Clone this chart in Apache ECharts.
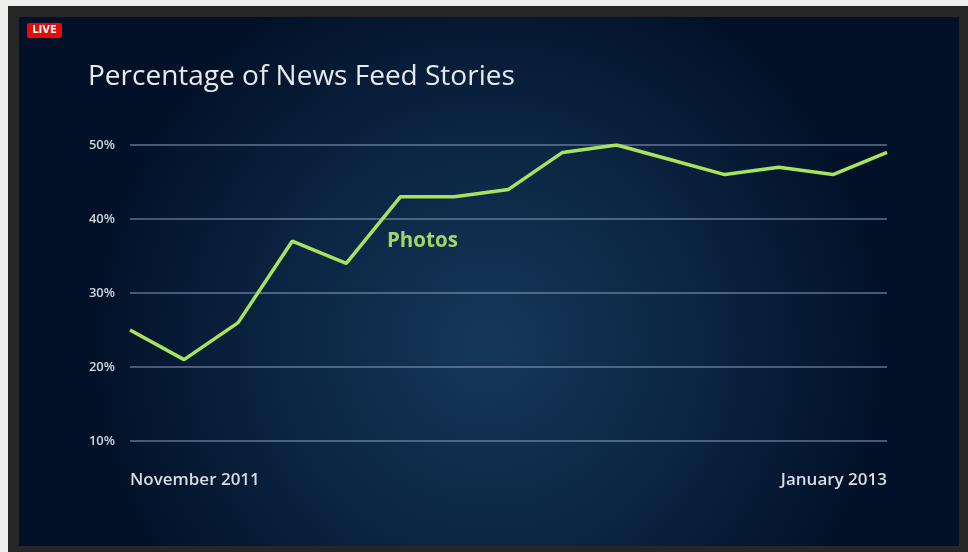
<!DOCTYPE html>
<html><head><meta charset="utf-8">
<script src="https://cdn.jsdelivr.net/npm/echarts@6/dist/echarts.min.js"></script>
<style>html,body{margin:0;padding:0;background:#efefed}#c{width:968px;height:552px}</style>
</head><body><div id="c"></div>
<script>
const months = ['November 2011','December 2011','January 2012','February 2012','March 2012','April 2012','May 2012','June 2012','July 2012','August 2012','September 2012','October 2012','November 2012','December 2012','January 2013'];
const photos = [25, 21, 26, 37, 34, 43, 43, 44, 49, 50, 48, 46, 47, 46, 49];
const yTicks = [10, 20, 30, 40, 50];
const titleText = 'Percentage of News Feed Stories';
const seriesName = 'Photos';

const chart = echarts.init(document.getElementById('c'), null, {renderer:'canvas'});
chart.setOption({
  backgroundColor: '#efefed',
  animation: false,
  graphic: [
    {type:'rect', z:-20, shape:{x:8,y:6,width:960,height:546}, style:{fill:'#262626'}},
    {type:'rect', z:-19, shape:{x:19,y:17,width:940,height:529}, style:{
      fill: new echarts.graphic.RadialGradient(0.5, 0.62, 0.75, [
        {offset:0, color:'#15385b'},
        {offset:0.55, color:'#0b2442'},
        {offset:1, color:'#021127'}
      ])}},
    {type:'rect', z:10, shape:{x:27,y:23,width:35,height:15, r:2}, style:{fill:'#e60b0b'}},
    {type:'text', z:11, x:44.5, y:30.5, style:{text:'LIVE', fill:'#ffffff', font:'bold 10px "DejaVu Sans"', align:'center', verticalAlign:'middle'}},
    {type:'text', z:11, x:88, y:77, style:{text:titleText, fill:'#e6eaef', font:'500 28px "Open Sans"', align:'left', verticalAlign:'middle'}},
    {type:'text', z:11, x:387, y:241, style:{text:seriesName, fill:'#a3d66a', font:'bold 20.5px "Open Sans"', align:'left', verticalAlign:'middle'}}
  ],
  grid: {left:130, right:81, top:145, bottom:111, containLabel:false},
  xAxis: {
    type:'category', data: months, boundaryGap:false,
    axisLine:{show:false}, axisTick:{show:false}, splitLine:{show:false},
    axisLabel:{
      interval: (i) => i === 0 || i === months.length - 1,
      color:'#d7dde4', fontSize:17, fontWeight:600, fontFamily:'"Open Sans"',
      margin:31, alignMinLabel:'left', alignMaxLabel:'right',
      showMinLabel:true, showMaxLabel:true
    }
  },
  yAxis: {
    type:'value', min:yTicks[0], max:yTicks[yTicks.length-1], interval:10,
    axisLine:{show:false}, axisTick:{show:false},
    splitLine:{lineStyle:{color:'rgba(140,160,190,0.5)', width:2}},
    axisLabel:{formatter:'{value}%', color:'#cfd6df', fontSize:13, fontWeight:600, fontFamily:'"Open Sans"', margin:15}
  },
  series: [{
    name: seriesName, type:'line', data: photos, showSymbol:false, symbol:'none',
    lineStyle:{color:'#a8e35c', width:3.5}, z:5
  }]
});
</script></body></html>
